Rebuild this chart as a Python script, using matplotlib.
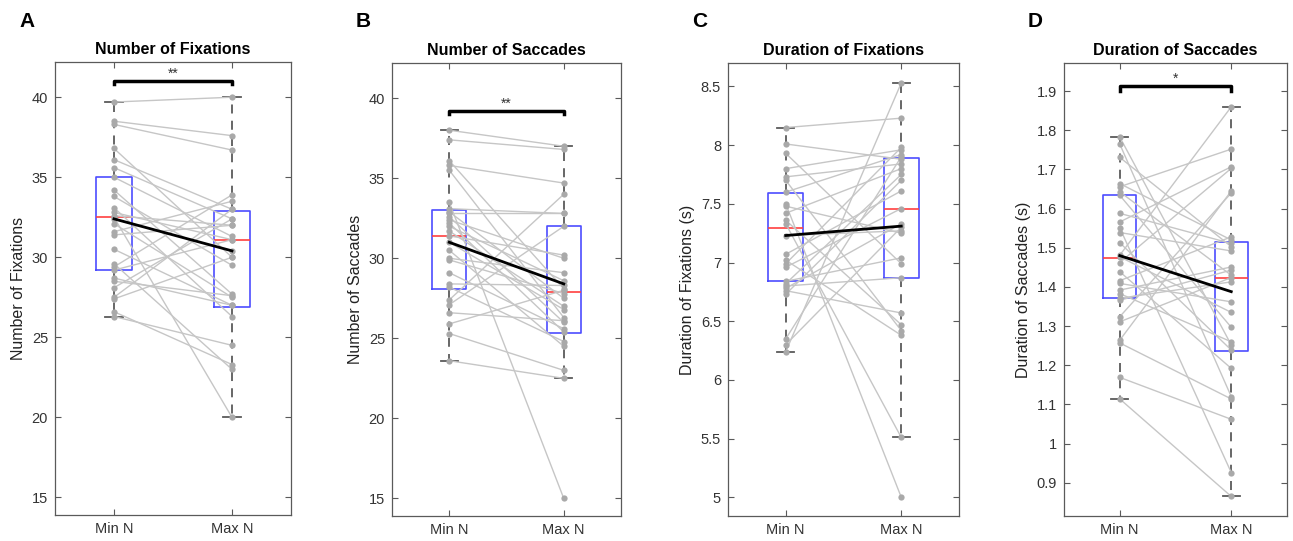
import matplotlib

matplotlib.use("Agg")
import matplotlib.pyplot as plt
from matplotlib.ticker import FormatStrFormatter, FuncFormatter

plt.rcParams["font.family"] = ["Liberation Sans", "DejaVu Sans"]

W, H = 1293, 541
CONDITIONS = ["Min N", "Max N"]

# ---- paired subject values (Min N, Max N) ----
fix_n_min = [39.7, 38.5, 38.3, 36.8, 36.1, 35.6, 35.0, 34.2, 33.8, 33.1, 32.8, 32.6, 32.5, 32.4,
             32.1, 31.6, 31.4, 30.5, 29.6, 29.4, 29.2, 28.7, 28.5, 28.1, 27.5, 27.4, 26.6, 26.3]
fix_n_max = [40.0, 37.6, 36.7, 30.0, 33.0, 32.4, 31.3, 27.7, 29.5, 26.3, 31.1, 32.0, 20.0, 30.4,
             27.5, 33.5, 32.0, 27.0, 23.0, 33.9, 31.1, 27.0, 27.6, 32.4, 33.0, 30.0, 23.3, 24.5]

sac_n_min = [38.0, 37.4, 36.1, 35.8, 35.5, 33.5, 33.1, 32.9, 32.8, 32.6, 32.4, 32.2, 32.0, 31.7,
             31.4, 31.0, 30.5, 30.0, 29.9, 29.1, 28.4, 28.2, 27.4, 27.1, 26.6, 25.9, 25.3, 23.6]
sac_n_max = [37.0, 36.8, 28.1, 34.7, 26.3, 15.0, 32.8, 27.5, 32.8, 26.0, 30.0, 25.4, 28.6, 27.0,
             30.2, 26.8, 24.5, 29.1, 27.8, 25.6, 28.3, 24.8, 34.0, 32.0, 26.1, 28.0, 23.0, 22.5]

fix_d_min = [8.15, 8.01, 7.93, 7.80, 7.73, 7.70, 7.60, 7.50, 7.48, 7.42, 7.36, 7.33, 7.23,
             7.07, 7.02, 6.99, 6.96, 6.84, 6.82, 6.80, 6.78, 6.76, 6.73, 6.35, 6.30, 6.24]
fix_d_max = [8.23, 7.88, 6.99, 7.96, 7.84, 6.42, 7.92, 5.00, 7.25, 7.80, 6.47, 5.51, 7.27,
             7.61, 6.38, 7.98, 7.46, 7.04, 7.75, 6.87, 7.33, 6.57, 7.70, 7.90, 7.30, 8.53]

sac_d_min = [1.783, 1.765, 1.731, 1.664, 1.656, 1.643, 1.634, 1.588, 1.566, 1.551, 1.539, 1.513,
             1.481, 1.477, 1.462, 1.439, 1.416, 1.409, 1.392, 1.383, 1.371, 1.366, 1.324, 1.311,
             1.264, 1.257, 1.169, 1.114]
sac_d_max = [1.252, 1.120, 1.503, 1.520, 1.752, 1.430, 1.297, 1.511, 1.707, 0.926, 1.492, 1.239,
             1.860, 1.335, 1.703, 1.192, 1.528, 1.362, 1.451, 1.260, 1.413, 1.443, 1.640, 1.424,
             1.645, 1.114, 1.062, 0.865]

# ---- box statistics per condition: [Min N, Max N] ----
fix_n_q1, fix_n_med, fix_n_q3 = [29.2, 26.9], [32.5, 31.1], [35.0, 32.9]
fix_n_lo, fix_n_hi, fix_n_mean = [26.3, 20.0], [39.7, 40.0], [32.4, 30.4]

sac_n_q1, sac_n_med, sac_n_q3 = [28.1, 25.35], [31.4, 27.9], [33.0, 32.0]
sac_n_lo, sac_n_hi, sac_n_mean = [23.6, 22.5], [38.0, 37.0], [31.0, 28.4]

fix_d_q1, fix_d_med, fix_d_q3 = [6.84, 6.87], [7.29, 7.46], [7.59, 7.89]
fix_d_lo, fix_d_hi, fix_d_mean = [6.24, 5.51], [8.15, 8.53], [7.23, 7.31]

sac_d_q1, sac_d_med, sac_d_q3 = [1.371, 1.237], [1.473, 1.424], [1.634, 1.516]
sac_d_lo, sac_d_hi, sac_d_mean = [1.114, 0.865], [1.783, 1.860], [1.480, 1.388]

panels = [
    dict(letter="A", title="Number of Fixations", ylabel="Number of Fixations",
         a=fix_n_min, b=fix_n_max, q1=fix_n_q1, med=fix_n_med, q3=fix_n_q3,
         lo=fix_n_lo, hi=fix_n_hi, mean=fix_n_mean,
         rect=(55, 62, 291, 515), ylim=(13.9, 42.2), yticks=[15, 20, 25, 30, 35, 40],
         sig="**", sig_y=(40.8, 41.0)),
    dict(letter="B", title="Number of Saccades", ylabel="Number of Saccades",
         a=sac_n_min, b=sac_n_max, q1=sac_n_q1, med=sac_n_med, q3=sac_n_q3,
         lo=sac_n_lo, hi=sac_n_hi, mean=sac_n_mean,
         rect=(392, 63, 621, 516), ylim=(13.9, 42.2), yticks=[15, 20, 25, 30, 35, 40],
         sig="**", sig_y=(39.0, 39.2)),
    dict(letter="C", title="Duration of Fixations", ylabel="Duration of Fixations (s)",
         a=fix_d_min, b=fix_d_max, q1=fix_d_q1, med=fix_d_med, q3=fix_d_q3,
         lo=fix_d_lo, hi=fix_d_hi, mean=fix_d_mean,
         rect=(728, 63, 959, 516), ylim=(4.84, 8.70),
         yticks=[5, 5.5, 6, 6.5, 7, 7.5, 8, 8.5], sig=None, sig_y=None),
    dict(letter="D", title="Duration of Saccades", ylabel="Duration of Saccades (s)",
         a=sac_d_min, b=sac_d_max, q1=sac_d_q1, med=sac_d_med, q3=sac_d_q3,
         lo=sac_d_lo, hi=sac_d_hi, mean=sac_d_mean,
         rect=(1064, 63, 1287, 516), ylim=(0.815, 1.972),
         yticks=[0.9, 1, 1.1, 1.2, 1.3, 1.4, 1.5, 1.6, 1.7, 1.8, 1.9],
         sig="*", sig_y=(1.90, 1.913)),
]

AX_COL = "#5a5a5a"
BOX_COL = "#4d4dff"
LINE_GREY = "#c6c6c6"
DOT_GREY = "#a9a9a9"

fig = plt.figure(figsize=(W / 100, H / 100), dpi=100)

for p in panels:
    l, t, r, b = p["rect"]
    ax = fig.add_axes([l / W, 1 - b / H, (r - l) / W, (b - t) / H])

    stats = [dict(q1=p["q1"][i], med=p["med"][i], q3=p["q3"][i],
                  whislo=p["lo"][i], whishi=p["hi"][i], fliers=[]) for i in range(2)]
    ax.bxp(stats, positions=[1, 2], widths=0.3, showfliers=False,
           boxprops=dict(color=BOX_COL, lw=1.2),
           medianprops=dict(color="#ff4040", lw=1.2),
           whiskerprops=dict(color=AX_COL, lw=1.3, linestyle=(0, (5, 4))),
           capprops=dict(color=AX_COL, lw=1.3), zorder=2)

    # subject-wise paired lines and points
    for va, vb in zip(p["a"], p["b"]):
        ax.plot([1, 2], [va, vb], color=LINE_GREY, lw=1.0, zorder=3)
    ax.plot([1] * len(p["a"]), p["a"], "o", ms=4.5, color=DOT_GREY, mec="none", zorder=4)
    ax.plot([2] * len(p["b"]), p["b"], "o", ms=4.5, color=DOT_GREY, mec="none", zorder=4)

    # group means
    ax.plot([1, 2], p["mean"], color="black", lw=2.0, zorder=5)

    if p["sig"]:
        y0, y1 = p["sig_y"]
        ax.plot([1, 1, 2, 2], [y0, y1, y1, y0], color="black", lw=2.5,
                solid_joinstyle="round", zorder=5)
        ax.text(1.5, y1, p["sig"], ha="center", va="bottom", fontsize=10, color="#333333")

    ax.set_xlim(0.5, 2.5)
    ax.set_ylim(*p["ylim"])
    ax.set_xticks([1, 2])
    ax.set_xticklabels(CONDITIONS)
    ax.set_yticks(p["yticks"])
    ax.yaxis.set_major_formatter(FuncFormatter(lambda v, _: f"{v:g}"))
    ax.tick_params(direction="in", top=True, right=True, length=4, width=0.8,
                   color=AX_COL, labelsize=10.5, labelcolor="#333333", pad=5)
    for s in ax.spines.values():
        s.set_color(AX_COL)
        s.set_linewidth(0.9)
    ax.set_ylabel(p["ylabel"], fontsize=11.5, color="#222222", labelpad=4)
    ax.set_title(p["title"], fontsize=11.5, fontweight="bold", pad=6)
    fig.text((l - 36) / W, 1 - 12 / H, p["letter"], fontsize=15, fontweight="bold",
             ha="left", va="top")

fig.savefig("out.png", dpi=100)
